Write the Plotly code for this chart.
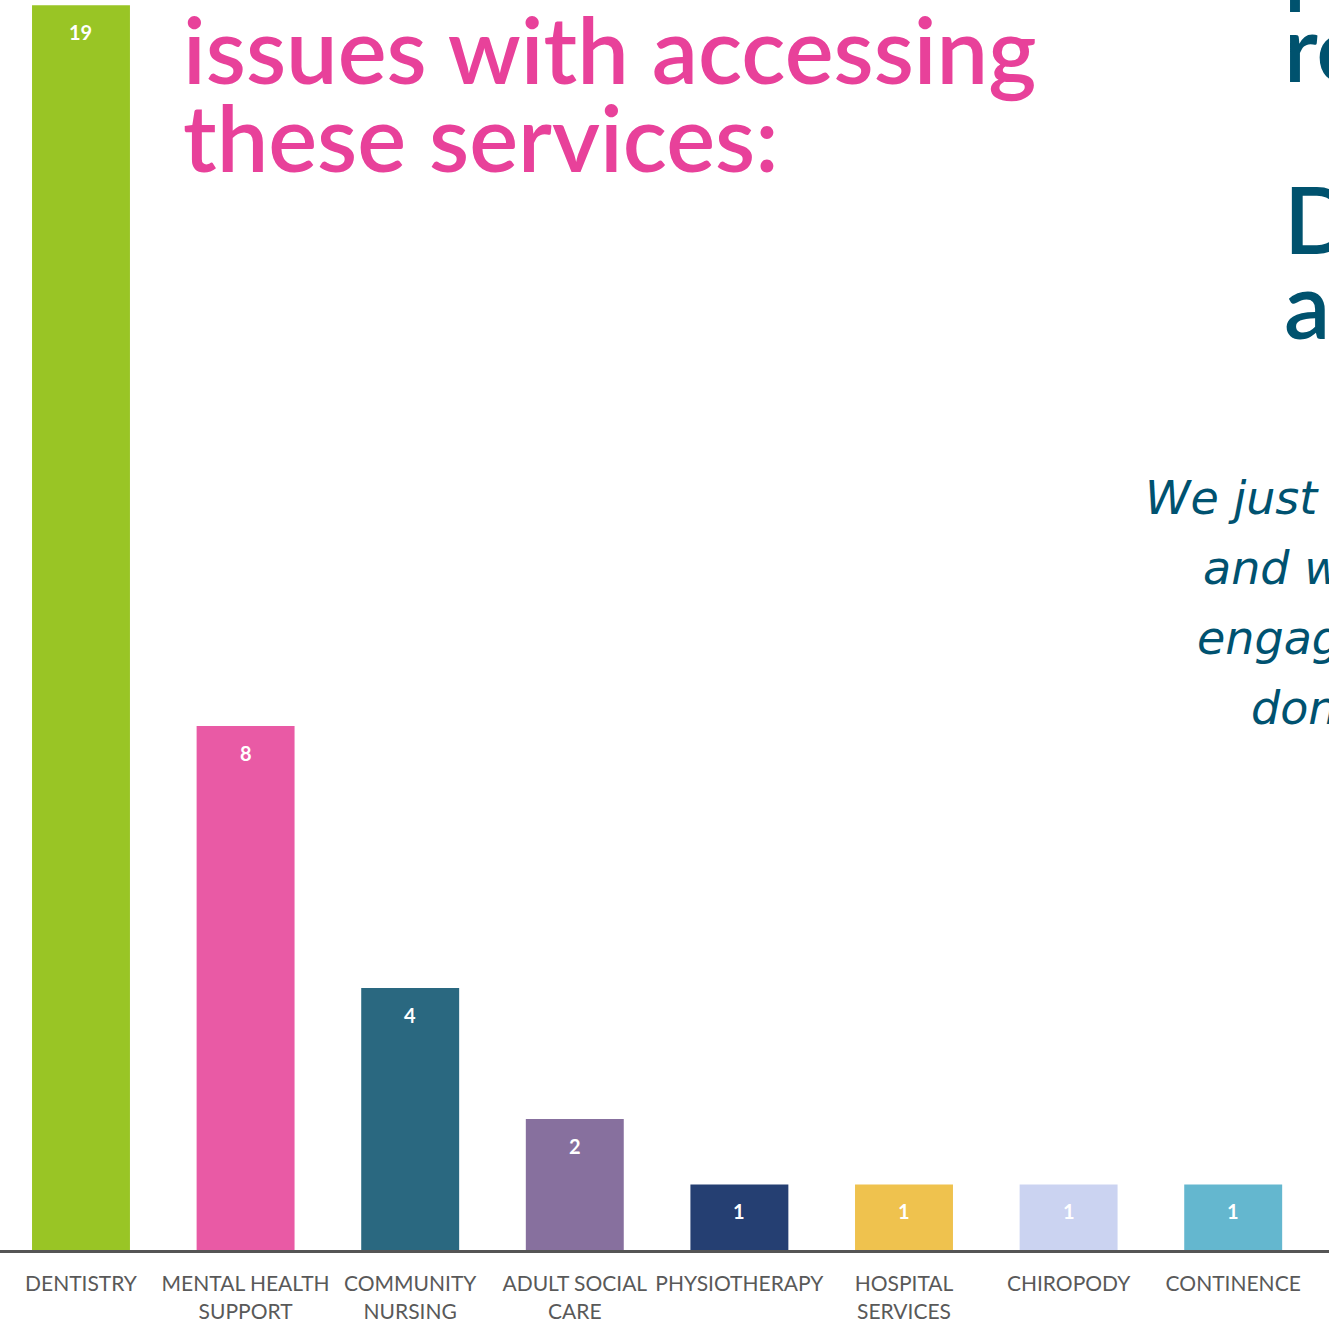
import plotly.graph_objects as go

categories = ["DENTISTRY", "MENTAL HEALTH<br>SUPPORT", "COMMUNITY<br>NURSING", "ADULT SOCIAL<br>CARE",
              "PHYSIOTHERAPY", "HOSPITAL<br>SERVICES", "CHIROPODY", "CONTINENCE"]
values = [19, 8, 4, 2, 1, 1, 1, 1]
colors = ["#99C525", "#E95AA5", "#2A6880", "#87709E", "#253F72", "#EFC24E", "#CBD3F1", "#64B7CF"]

title_lines = ["issues with accessing", "these services:"]
right_lines = ["p", "re", "", "D", "a"]
quote_lines = ["We just", "and w", "engag", "don"]

W, H = 1329, 1320
PLOT_H = 1250

fig = go.Figure()
fig.add_trace(go.Bar(
    x=list(range(len(categories))), y=values,
    marker=dict(color=colors, line=dict(width=0)),
    width=0.595, hoverinfo="skip",
))

for i, v in enumerate(values):
    fig.add_annotation(x=i, y=v, xref="x", yref="y", text=f"<b>{v}</b>", showarrow=False,
                       yanchor="top", yshift=-13,
                       font=dict(family="Lato", size=20, color="white"))

def py(px):
    return (PLOT_H - px) / PLOT_H

# pink title lines (baselines ~85, ~173)
title_font = dict(family="Lato", size=92, color="#E8419A", weight=600)
for line, base in zip(title_lines, [85, 173]):
    fig.add_annotation(x=181 / W, y=py(base + 21), xref="paper", yref="paper", text=line,
                       showarrow=False, xanchor="left", yanchor="bottom", font=title_font)

# dark teal heading fragments on the right
right_font = dict(family="Lato", size=92, color="#00526E", weight=600)
for line, base in zip(right_lines, [-3, 83, 169, 255, 340]):
    if line:
        fig.add_annotation(x=1282 / W, y=py(base + 21), xref="paper", yref="paper", text=line,
                           showarrow=False, xanchor="left", yanchor="bottom", font=right_font)

# italic quote fragments
quote_font = dict(family="DejaVu Sans", size=46, color="#005270", style="italic")
for line, xs, base in zip(quote_lines, [1143, 1201, 1195, 1249], [515, 585, 655, 725]):
    fig.add_annotation(x=xs / W, y=py(base + 12), xref="paper", yref="paper", text=line,
                       showarrow=False, xanchor="left", yanchor="bottom", font=quote_font)

fig.update_layout(
    width=W, height=H,
    margin=dict(l=0, r=0, t=0, b=H - PLOT_H),
    paper_bgcolor="white", plot_bgcolor="white",
    showlegend=False,
    xaxis=dict(
        tickmode="array", tickvals=list(range(len(categories))), ticktext=categories,
        range=[-0.492, 7.582], showline=True, linecolor="#555555", linewidth=3,
        showgrid=False, zeroline=False, ticks="", ticklabelstandoff=13, automargin=False,
        tickfont=dict(family="Lato", size=21, color="#595959"),
    ),
    yaxis=dict(range=[0, 19.08], visible=False, showgrid=False, zeroline=False, automargin=False),
)

fig.write_html("out.html")
